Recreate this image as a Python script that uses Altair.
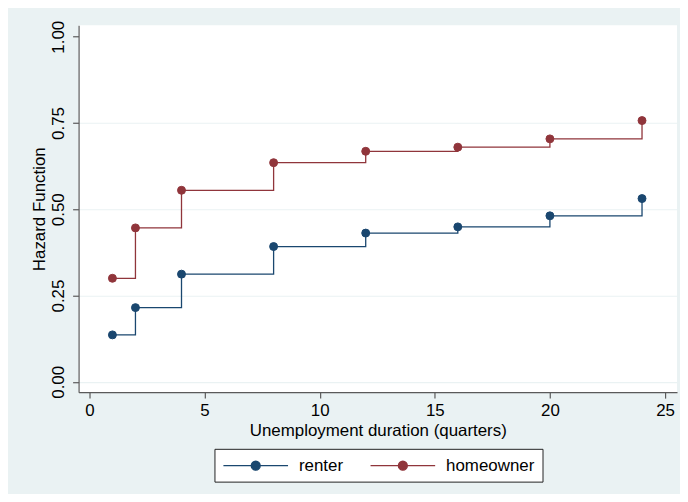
import altair as alt
import pandas as pd

quarters = [1, 2, 4, 8, 12, 16, 20, 24]
renter = [0.136, 0.215, 0.312, 0.392, 0.431, 0.449, 0.481, 0.531]
homeowner = [0.300, 0.446, 0.555, 0.635, 0.668, 0.680, 0.704, 0.757]
series_names = ["renter", "homeowner"]
series_colors = ["#1a476f", "#90353b"]
x_ticks = [0, 5, 10, 15, 20, 25]
y_ticks = [0, 0.25, 0.5, 0.75, 1.0]

rows = []
for q, v in zip(quarters, renter):
    rows.append({"q": q, "h": v, "series": "renter"})
for q, v in zip(quarters, homeowner):
    rows.append({"q": q, "h": v, "series": "homeowner"})
df = pd.DataFrame(rows)

FONT = "Liberation Sans"
BG = "#eaf2f3"
AX = "#5a5a5a"

scale = alt.Scale(domain=series_names, range=series_colors)
# legend key: a line with a marker in the middle (unit = 8 px, symbolSize 256)
legend_path = ("M-1,0L7.125,0"
               "M2.5,0A0.5625,0.5625,0,1,1,3.625,0A0.5625,0.5625,0,1,1,2.5,0Z")
legend = alt.Legend(
    title=None, orient="none", legendX=136.7, legendY=426, direction="horizontal",
    symbolType=legend_path, symbolSize=256, symbolStrokeWidth=1.3,
    labelFont=FONT, labelFontSize=17, labelColor="black", labelOffset=59,
    columnPadding=24, padding=8, strokeColor="#222222", fillColor="white",
)

x_enc = alt.X("q:Q", scale=alt.Scale(domain=[-0.47, 25.52], nice=False, zero=False),
              axis=alt.Axis(values=x_ticks, title="Unemployment duration (quarters)",
                            grid=False, tickSize=6, labelPadding=17.7,
                            labelBaseline="alphabetic", labelFontSize=17,
                            titleBaseline="alphabetic", titleY=43.7, titleFontSize=17,
                            titleFontWeight="normal"))
y_enc = alt.Y("h:Q", scale=alt.Scale(domain=[-0.03, 1.033], nice=False, zero=False),
              axis=alt.Axis(values=y_ticks, format=".2f", title="Hazard Function",
                            grid=True, gridColor=BG, gridWidth=1.2,
                            gridOpacity={"condition": {"test": "datum.value >= 1", "value": 0}, "value": 1},
                            tickSize=6, labelAngle=270, labelAlign="center",
                            labelBaseline="alphabetic", labelPadding=9, labelFontSize=17,
                            titleAngle=270, titleAlign="center", titleBaseline="alphabetic",
                            titleX=-34.7, titleY=184.5, titleFontSize=17,
                            titleFontWeight="normal"))

lines = alt.Chart(df).mark_line(interpolate="step-after", strokeWidth=1.3).encode(
    x=x_enc, y=y_enc,
    stroke=alt.Stroke("series:N", scale=scale, legend=legend),
)
points = alt.Chart(df).mark_point(filled=True, size=64, opacity=1, strokeWidth=1).encode(
    x=x_enc, y=y_enc,
    fill=alt.Fill("series:N", scale=scale, legend=legend),
    stroke=alt.Stroke("series:N", scale=scale, legend=legend),
)

chart = alt.layer(lines, points).properties(
    width=602, height=369,
    padding={"left": 71, "top": 16, "right": 3, "bottom": 101},
    autosize=alt.AutoSizeParams(type="none"),
    background=BG,
).configure_view(fill="white", stroke=None).configure_axis(
    domainColor=AX, tickColor=AX, domainWidth=1.2, tickWidth=1.2,
    labelFont=FONT, titleFont=FONT, labelColor="black", titleColor="black",
)

chart.save("out.html", embed_options={"renderer": "svg", "actions": False})
